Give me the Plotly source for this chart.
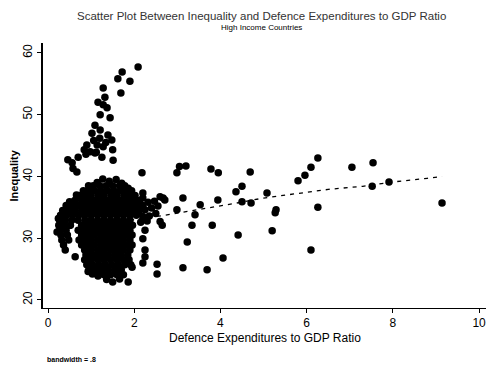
import plotly.graph_objects as go

# Defence expenditure / GDP ratio (x) vs inequality index (y), high-income countries

# Dense core of the distribution, row by row (inequality level -> defence ratios)
cluster_rows_y = [38.5, 37.7, 36.9, 36.1, 35.3, 34.5, 33.7, 32.9, 32.1, 31.3,
                  30.5, 29.7, 28.9, 28.1, 27.3, 26.5, 25.7, 24.9, 24.1]
cluster_rows_x = [
    [0.94, 1.05, 1.20, 1.35, 1.50, 1.66, 1.78],
    [0.82, 0.94, 1.08, 1.23, 1.38, 1.53, 1.68, 1.83, 1.94],
    [0.72, 0.86, 1.00, 1.16, 1.30, 1.46, 1.60, 1.76, 1.90, 2.02],
    [0.62, 0.78, 0.93, 1.08, 1.23, 1.38, 1.53, 1.68, 1.83, 1.98, 2.12],
    [0.42, 0.55, 0.70, 0.85, 1.00, 1.15, 1.30, 1.45, 1.60, 1.75, 1.90, 2.05, 2.20],
    [0.34, 0.48, 0.62, 0.78, 0.92, 1.07, 1.22, 1.37, 1.52, 1.67, 1.82, 1.97, 2.12],
    [0.29, 0.42, 0.57, 0.71, 0.85, 1.00, 1.15, 1.30, 1.45, 1.60, 1.75, 1.90, 2.05],
    [0.27, 0.40, 0.55, 0.70, 0.86, 1.00, 1.15, 1.30, 1.45, 1.60, 1.75, 1.90],
    [0.25, 0.38, 0.52, 0.78, 0.92, 1.07, 1.22, 1.37, 1.52, 1.67, 1.82, 1.96],
    [0.27, 0.42, 0.70, 0.85, 1.00, 1.15, 1.30, 1.45, 1.60, 1.75, 1.90],
    [0.30, 0.45, 0.78, 0.92, 1.07, 1.22, 1.37, 1.52, 1.67, 1.82, 1.95],
    [0.32, 0.48, 0.72, 0.85, 1.00, 1.15, 1.30, 1.45, 1.60, 1.75, 1.90],
    [0.36, 0.78, 0.92, 1.07, 1.22, 1.37, 1.52, 1.67, 1.82, 1.95],
    [0.40, 0.85, 1.00, 1.15, 1.30, 1.45, 1.60, 1.75, 1.90],
    [0.88, 1.00, 1.12, 1.25, 1.40, 1.55, 1.70, 1.85],
    [0.85, 1.00, 1.15, 1.30, 1.45, 1.60, 1.75, 1.88],
    [0.90, 1.03, 1.18, 1.33, 1.48, 1.63, 1.78, 1.92],
    [0.95, 1.10, 1.25, 1.40, 1.55, 1.70],
    [1.17, 1.30, 1.45, 1.60, 1.75],
]

# Ragged top and bottom edges of the core
edge_x = [1.14, 1.27, 1.42, 1.58, 1.71, 1.86, 0.66, 0.50, 0.21, 0.24,
          1.16, 1.36, 1.50, 1.66, 1.86, 0.93, 1.03]
edge_y = [39.0, 39.6, 39.2, 39.5, 38.9, 38.1, 37.0, 35.9, 31.0, 33.2,
          23.9, 23.3, 22.9, 23.4, 22.9, 24.6, 24.2]

# Shoulder of the core between ratios 2 and 3
shoulder_x = [2.06, 2.25, 2.40, 2.55, 2.32, 2.47, 2.60, 2.71, 2.20, 2.35, 2.50,
              2.15, 2.60, 2.30, 2.10, 2.20]
shoulder_y = [34.2, 34.6, 34.9, 35.2, 35.8, 36.0, 36.7, 36.2, 33.5, 33.6, 34.0,
              32.6, 32.7, 32.8, 35.8, 36.5]

# High-inequality branch
arm_x = [2.09, 1.72, 1.62, 1.90, 1.28, 1.69, 1.28, 1.37, 1.21, 1.44, 1.09, 1.21,
         1.02, 1.39, 1.48, 0.90, 1.14, 1.28, 0.84, 0.98, 1.06, 1.20, 1.34, 1.50,
         0.88, 1.12, 0.56, 0.46, 0.70, 0.67, 1.09, 1.25, 1.51, 0.58, 1.32, 1.16]
arm_y = [57.7, 56.9, 55.8, 55.4, 54.3, 53.5, 51.6, 51.1, 50.0, 49.5, 48.3, 47.5,
         47.0, 46.7, 45.9, 45.1, 45.1, 44.8, 44.3, 44.0, 45.8, 46.2, 45.5, 44.3,
         43.6, 43.9, 42.2, 42.7, 43.1, 40.7, 43.8, 43.1, 42.6, 41.3, 52.8, 52.0]

# Scattered observations at higher defence ratios
sparse_x = [2.18, 2.99, 3.05, 3.20, 3.78, 3.95, 4.50, 4.36, 4.69, 4.50, 4.71, 5.08,
            5.29, 5.27, 5.20, 4.41, 6.10, 6.26, 5.80, 5.96, 6.10, 6.26, 7.05, 7.54,
            7.52, 7.91, 9.14, 2.67, 3.13, 2.99, 3.53, 3.94, 3.41, 3.34, 3.81, 2.65,
            3.23, 3.13, 3.69, 4.06, 2.20, 2.25, 2.20, 2.25, 2.25, 2.20, 2.53, 2.53,
            1.95, 0.63]
sparse_y = [40.6, 40.6, 41.6, 41.7, 41.2, 40.6, 38.4, 37.5, 40.7, 35.9, 35.7, 37.3,
            34.6, 34.1, 31.2, 30.5, 28.1, 35.0, 39.3, 40.2, 41.5, 43.0, 41.5, 42.2,
            38.4, 39.1, 35.7, 36.5, 36.5, 34.6, 35.4, 36.2, 33.8, 32.1, 32.1, 32.1,
            29.4, 25.2, 24.9, 26.8, 37.3, 31.3, 29.9, 28.1, 27.0, 26.0, 25.8, 24.2,
            25.3, 27.0]

# Lowess fit (bandwidth = .8)
lowess_x = [0.25, 1.0, 1.5, 2.0, 2.7, 3.5, 4.3, 5.0, 5.8, 6.5, 7.3, 8.0, 8.8, 9.14]
lowess_y = [31.4, 31.9, 32.4, 33.0, 33.7, 34.6, 35.6, 36.5, 37.3, 37.9, 38.4, 39.1, 39.7, 40.0]

x_ticks = [0, 2, 4, 6, 8, 10]
y_ticks = [20, 30, 40, 50, 60]

pts_x, pts_y = [], []
for yv, xs in zip(cluster_rows_y, cluster_rows_x):
    pts_x.extend(xs)
    pts_y.extend([yv] * len(xs))
pts_x += edge_x + shoulder_x + arm_x + sparse_x
pts_y += edge_y + shoulder_y + arm_y + sparse_y

FONT = "Liberation Sans, Arial, sans-serif"

fig = go.Figure()
fig.add_trace(go.Scatter(
    x=lowess_x, y=lowess_y, mode="lines",
    line=dict(color="black", width=1.3, dash="4px,5px"),
    hoverinfo="skip", showlegend=False,
))
fig.add_trace(go.Scatter(
    x=pts_x, y=pts_y, mode="markers",
    marker=dict(color="black", size=7.5, line=dict(width=0)),
    showlegend=False,
))

fig.update_layout(
    width=486, height=365,
    margin=dict(l=43, r=0, t=43, b=57),
    paper_bgcolor="white", plot_bgcolor="white",
    font=dict(family=FONT, color="black"),
    xaxis=dict(
        range=[-0.116, 10.16], tickvals=x_ticks, ticktext=[str(t) for t in x_ticks],
        showline=True, linecolor="black", linewidth=1, mirror=False,
        ticks="outside", ticklen=4, tickcolor="black", tickwidth=1,
        ticklabeloverflow="allow",
        showgrid=False, zeroline=False, tickfont=dict(size=12, family=FONT),
    ),
    yaxis=dict(
        range=[18.7, 61.6], tickvals=y_ticks, ticktext=[str(t) for t in y_ticks],
        tickangle=-90,
        showline=True, linecolor="black", linewidth=1.5,
        ticks="outside", ticklen=4, tickcolor="black", tickwidth=1,
        showgrid=False, zeroline=False, tickfont=dict(size=12, family=FONT),
    ),
    annotations=[
        dict(text="Scatter Plot Between Inequality and Defence Expenditures to GDP Ratio",
             xref="paper", yref="paper", x=0.494, y=1.102, xanchor="center", yanchor="middle",
             showarrow=False, font=dict(size=11.5, family=FONT, color="#333333")),
        dict(text="High Income Countries",
             xref="paper", yref="paper", x=0.494, y=1.06, xanchor="center", yanchor="middle",
             showarrow=False, font=dict(size=8, family=FONT)),
        dict(text="<b>Inequality</b>", textangle=-90,
             xref="paper", yref="paper", x=-0.0655, y=0.5, xanchor="center", yanchor="middle",
             showarrow=False, font=dict(size=11, family=FONT)),
        dict(text="Defence Expenditures to GDP Ratio",
             xref="paper", yref="paper", x=0.501, y=-0.113, xanchor="center", yanchor="middle",
             showarrow=False, font=dict(size=12, family=FONT)),
        dict(text="<b>bandwidth = .8</b>",
             xref="paper", yref="paper", x=0.0045, y=-0.196, xanchor="left", yanchor="middle",
             showarrow=False, font=dict(size=7, family=FONT)),
    ],
)

fig.write_html("out.html")
